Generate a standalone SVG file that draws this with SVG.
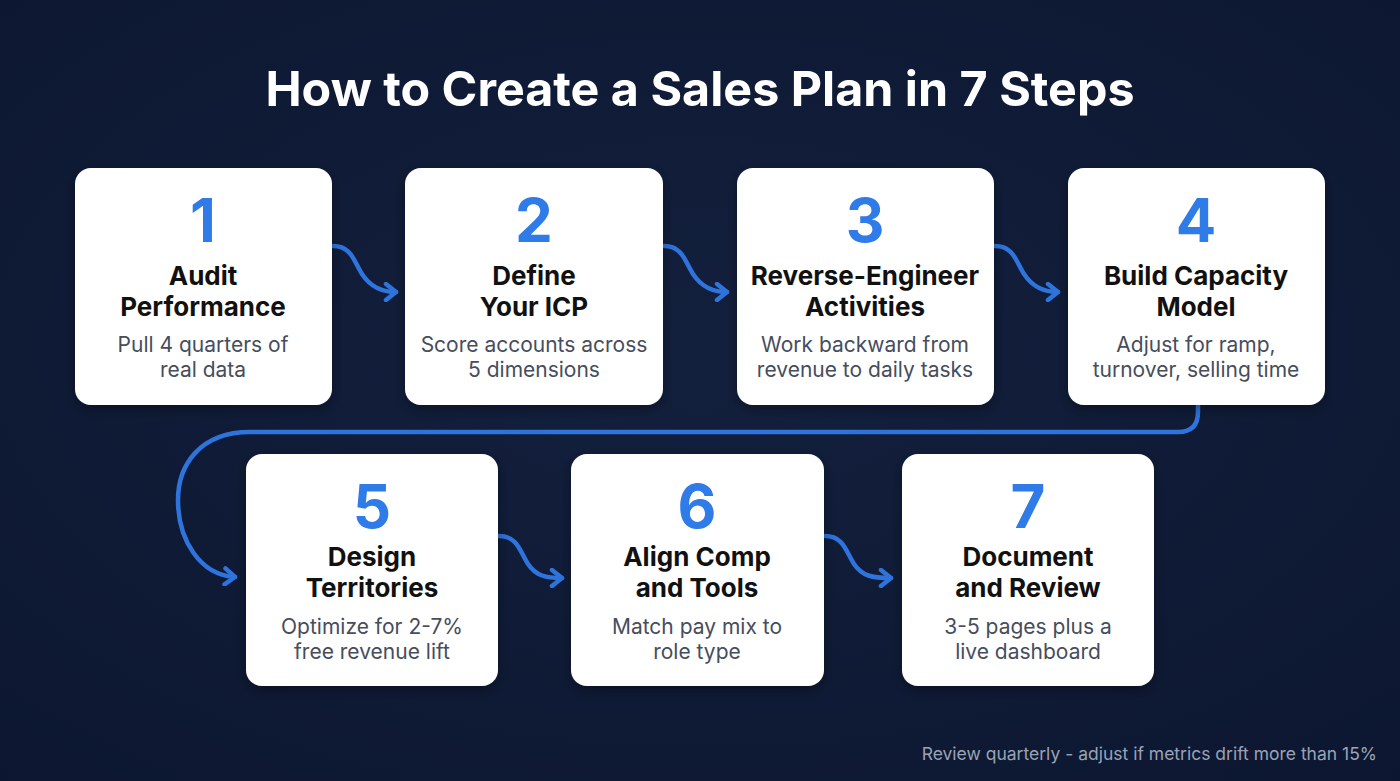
<svg xmlns="http://www.w3.org/2000/svg" width="1400" height="781" viewBox="0 0 1400 781">
<defs>
<radialGradient id="bg" cx="50%" cy="45%" r="75%">
<stop offset="0" stop-color="#13203d"/>
<stop offset="1" stop-color="#0c1630"/>
</radialGradient>
<filter id="sh" x="-20%" y="-20%" width="140%" height="140%">
<feDropShadow dx="0" dy="4" stdDeviation="6" flood-color="#000" flood-opacity="0.35"/>
</filter>
<marker id="ah" viewBox="0 0 20 20" refX="16" refY="10" markerWidth="20" markerHeight="20" markerUnits="userSpaceOnUse" orient="auto">
<path d="M6,2 L16,10 L6,18" fill="none" stroke="#2f73dc" stroke-width="4.5" stroke-linecap="round" stroke-linejoin="round"/>
</marker>
<style>
.card{fill:#ffffff;filter:url(#sh)}
.num{font-family:Inter,"Liberation Sans",sans-serif;font-weight:700;font-size:60px;fill:#2f7be8;text-anchor:middle}
.ttl{font-family:Inter,"Liberation Sans",sans-serif;font-weight:700;font-size:26px;fill:#111111;text-anchor:middle}
.dsc{font-family:Inter,"Liberation Sans",sans-serif;font-weight:400;font-size:21px;fill:#464d5c;text-anchor:middle}
.conn{fill:none;stroke:#2f73dc;stroke-width:4.5;stroke-linecap:round;marker-end:url(#ah)}
</style>
</defs>
<rect width="1400" height="781" fill="url(#bg)"/>
<text x="700" y="106" font-family="Inter,'Liberation Sans',sans-serif" font-weight="700" font-size="48.4" fill="#ffffff" text-anchor="middle">How to Create a Sales Plan in 7 Steps</text>
<g id="connectors">
<path class="conn" d="M333,246 C352,246 354,262 362,274 C370,286 380,292 396,292"/>
<path class="conn" d="M664,246 C683,246 685,262 693,274 C701,286 711,292 727,292"/>
<path class="conn" d="M995,246 C1014,246 1016,262 1024,274 C1032,286 1042,292 1058,292"/>
<path class="conn" d="M1198,406 L1198,412 Q1198,432 1178,432 L250,432 C200,432 178,465 178,500 C178,540 200,575 235,577"/>
<path class="conn" d="M499,536 C518,536 520,552 528,564 C536,576 546,578 562,578"/>
<path class="conn" d="M825,536 C844,536 846,552 854,564 C862,576 872,578 891,578"/>
</g>
<g id="step1">
<rect class="card" x="75" y="168" width="257" height="237" rx="16"/>
<text class="num" x="203" y="242">1</text>
<text class="ttl" x="203" y="285">Audit</text>
<text class="ttl" x="203" y="316">Performance</text>
<text class="dsc" x="203" y="352">Pull 4 quarters of</text>
<text class="dsc" x="203" y="377">real data</text>
</g>
<g id="step2">
<rect class="card" x="405" y="168" width="258" height="237" rx="16"/>
<text class="num" x="534" y="242">2</text>
<text class="ttl" x="534" y="285">Define</text>
<text class="ttl" x="534" y="316">Your ICP</text>
<text class="dsc" x="534" y="352">Score accounts across</text>
<text class="dsc" x="534" y="377">5 dimensions</text>
</g>
<g id="step3">
<rect class="card" x="737" y="168" width="257" height="237" rx="16"/>
<text class="num" x="865" y="242">3</text>
<text class="ttl" x="865" y="285">Reverse-Engineer</text>
<text class="ttl" x="865" y="316">Activities</text>
<text class="dsc" x="865" y="352">Work backward from</text>
<text class="dsc" x="865" y="377">revenue to daily tasks</text>
</g>
<g id="step4">
<rect class="card" x="1068" y="168" width="257" height="237" rx="16"/>
<text class="num" x="1196" y="242">4</text>
<text class="ttl" x="1196" y="285">Build Capacity</text>
<text class="ttl" x="1196" y="316">Model</text>
<text class="dsc" x="1196" y="352">Adjust for ramp,</text>
<text class="dsc" x="1196" y="377">turnover, selling time</text>
</g>
<g id="step5">
<rect class="card" x="246" y="454" width="252" height="232" rx="16"/>
<text class="num" x="372" y="528">5</text>
<text class="ttl" x="372" y="566">Design</text>
<text class="ttl" x="372" y="597">Territories</text>
<text class="dsc" x="372" y="634">Optimize for 2-7%</text>
<text class="dsc" x="372" y="659">free revenue lift</text>
</g>
<g id="step6">
<rect class="card" x="571" y="454" width="253" height="232" rx="16"/>
<text class="num" x="697" y="528">6</text>
<text class="ttl" x="697" y="566">Align Comp</text>
<text class="ttl" x="697" y="597">and Tools</text>
<text class="dsc" x="697" y="634">Match pay mix to</text>
<text class="dsc" x="697" y="659">role type</text>
</g>
<g id="step7">
<rect class="card" x="902" y="454" width="252" height="232" rx="16"/>
<text class="num" x="1028" y="528">7</text>
<text class="ttl" x="1028" y="566">Document</text>
<text class="ttl" x="1028" y="597">and Review</text>
<text class="dsc" x="1028" y="634">3-5 pages plus a</text>
<text class="dsc" x="1028" y="659">live dashboard</text>
</g>
<text x="1377" y="760" font-family="Inter,'Liberation Sans',sans-serif" font-size="17.5" fill="#9aa3b5" text-anchor="end">Review quarterly - adjust if metrics drift more than 15%</text>
</svg>
